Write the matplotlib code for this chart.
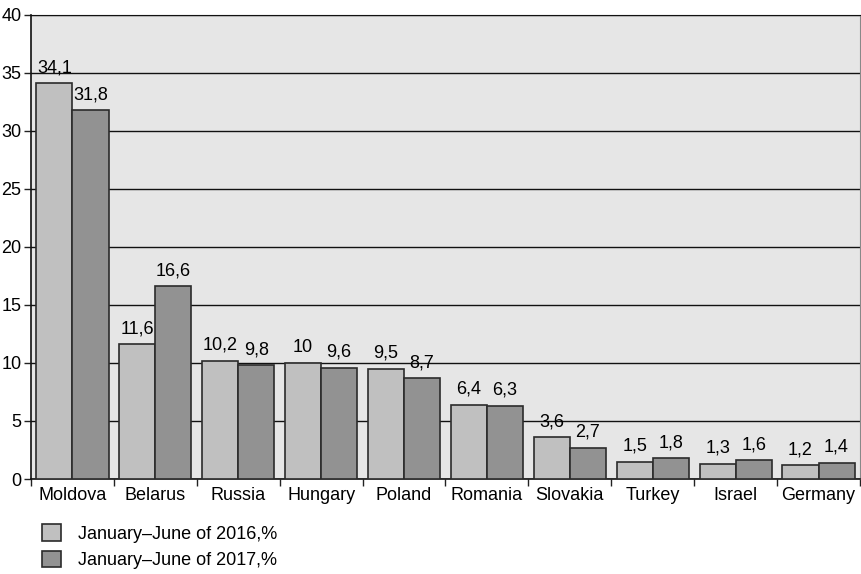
import matplotlib.pyplot as plt
import numpy as np
from matplotlib.patches import Patch

countries = ["Moldova", "Belarus", "Russia", "Hungary", "Poland",
             "Romania", "Slovakia", "Turkey", "Israel", "Germany"]
share_2016 = [34.1, 11.6, 10.2, 10, 9.5, 6.4, 3.6, 1.5, 1.3, 1.2]
share_2017 = [31.8, 16.6, 9.8, 9.6, 8.7, 6.3, 2.7, 1.8, 1.6, 1.4]
labels_2016 = ["34,1", "11,6", "10,2", "10", "9,5", "6,4", "3,6", "1,5", "1,3", "1,2"]
labels_2017 = ["31,8", "16,6", "9,8", "9,6", "8,7", "6,3", "2,7", "1,8", "1,6", "1,4"]
legend_labels = ["January–June of 2016,%", "January–June of 2017,%"]

plt.rcParams['font.family'] = ['Liberation Sans', 'DejaVu Sans']
plt.rcParams['font.size'] = 13

light = "#c0c0c0"
dark = "#929292"
edge = "#2b2b2b"

fig = plt.figure(figsize=(8.61, 5.74), dpi=100)
ax = fig.add_axes([0.036, 0.1655, 0.9628, 0.8085])
ax.set_facecolor("#e6e6e6")

x = np.arange(len(countries))
w = 0.435
b1 = ax.bar(x - w / 2, share_2016, w, color=light, edgecolor=edge, linewidth=1.2, zorder=3)
b2 = ax.bar(x + w / 2, share_2017, w, color=dark, edgecolor=edge, linewidth=1.2, zorder=3)
ax.bar_label(b1, labels=labels_2016, padding=5)
ax.bar_label(b2, labels=labels_2017, padding=5)

ax.set_xlim(-0.5, len(countries) - 0.5)
ax.set_ylim(0, 40)
ax.set_yticks(range(0, 41, 5))
ax.set_xticks(x)
ax.set_xticklabels(countries)
ax.set_xticks(np.arange(-0.5, len(countries), 1), minor=True)
ax.tick_params(axis="x", which="major", length=0, pad=6)
ax.tick_params(axis="x", which="minor", length=5, width=1, color="#222222")
ax.tick_params(axis="y", length=5, width=1, pad=2, color="#222222")

ax.grid(axis="y", color="#111111", linewidth=1, zorder=1)
for side in ["left", "bottom"]:
    ax.spines[side].set_color("#111111")
    ax.spines[side].set_linewidth(1.2)
ax.spines["top"].set_color("#111111")
ax.spines["right"].set_color("#888888")

handles = [Patch(facecolor=light, edgecolor=edge, linewidth=1.2),
           Patch(facecolor=dark, edgecolor=edge, linewidth=1.2)]
fig.legend(handles, legend_labels, loc="upper left", bbox_to_anchor=(0.0488, 0.087),
           frameon=False, borderpad=0, borderaxespad=0, handlelength=1.05,
           handleheight=1.05, labelspacing=0.45, handletextpad=0.95)

fig.savefig("out.png", dpi=100)
